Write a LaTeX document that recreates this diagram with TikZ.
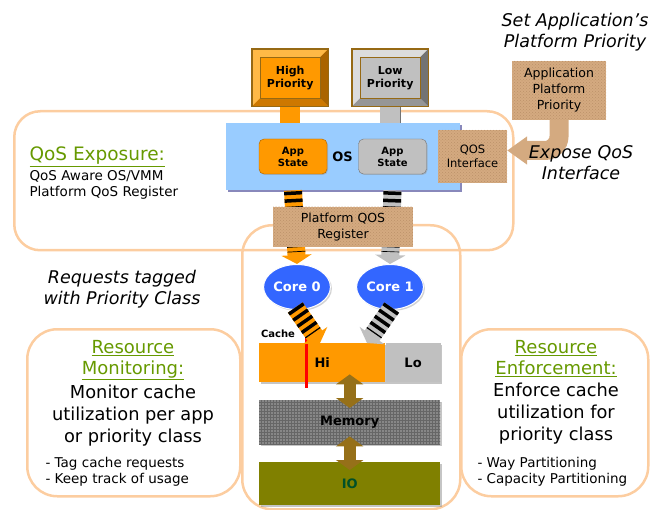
\documentclass[tikz,border=0pt]{standalone}
\usepackage{fontspec}
\setmainfont{DejaVu Sans}
\usetikzlibrary{arrows.meta,patterns,shapes.geometric,shadows,calc,positioning}
\definecolor{pumpkin}{RGB}{255,153,0}
\definecolor{pumpkinlt}{RGB}{255,185,70}
\definecolor{pumpkinbt}{RGB}{205,120,0}
\definecolor{pumpkindk}{RGB}{170,100,0}
\definecolor{silver}{RGB}{192,192,192}
\definecolor{silverlt}{RGB}{220,220,220}
\definecolor{silverbt}{RGB}{150,150,150}
\definecolor{silverdk}{RGB}{115,115,115}
\definecolor{signrim}{RGB}{150,105,20}
\definecolor{skyos}{RGB}{153,204,255}
\definecolor{peach}{RGB}{252,205,160}
\definecolor{leaf}{RGB}{102,153,0}
\definecolor{burlap}{RGB}{212,170,128}
\definecolor{burlapdot}{RGB}{188,145,105}
\definecolor{corebl}{RGB}{51,102,255}
\definecolor{memgray}{RGB}{135,135,135}
\definecolor{olivio}{RGB}{128,128,0}
\definecolor{iotext}{RGB}{0,80,40}
\definecolor{bronze}{RGB}{150,112,25}

\begin{document}
\begin{tikzpicture}[x=1pt,y=-1pt,
  region/.style={draw=peach,line width=2.5pt,rounded corners=26pt,anchor=north west},
  texture/.style={preaction={fill=burlap},pattern=crosshatch dots,pattern color=burlapdot,align=center},
  box/.style={anchor=north west,inner sep=0pt,drop shadow={shadow xshift=1.5pt,shadow yshift=-1.5pt,fill=black!45}},
  signtext/.style={font=\fontsize{11}{13}\selectfont\bfseries,align=center},
  stripes/.style={line width=18pt,-{Triangle[length=9pt,width=30pt]}},
  bars/.style={black,line width=18pt,dash pattern=on 3.5pt off 4pt,shorten >=12pt,shorten <=1pt},
  tagline/.style={font=\fontsize{17.5}{21}\selectfont\itshape,align=center},
  heading/.style={font=\fontsize{18}{21}\selectfont,text=leaf,align=center},
  bodytext/.style={font=\fontsize{17.8}{22}\selectfont,align=center},
  bullets/.style={font=\fontsize{13.5}{15.5}\selectfont,align=left,anchor=north west}]
\useasboundingbox (0,0) rectangle (650,510);

% the four regions
\node[region,minimum width=499pt,minimum height=139pt] (expo) at (13,110) {};
\node[region,minimum width=218pt,minimum height=284pt,rounded corners=30pt] (path) at (241,224) {};
\node[region,minimum width=213pt,minimum height=167pt,rounded corners=30pt] (monitor) at (26,328) {};
\node[region,minimum width=187pt,minimum height=167pt,rounded corners=30pt] (enforce) at (460,328) {};

% OS layer
\node[box,fill=skyos,minimum width=234pt,minimum height=67pt,drop shadow={shadow xshift=1.5pt,shadow yshift=-1.5pt,fill=blue!40!gray}] (os) at (226,123) {};
\node[fill=pumpkin,draw=pumpkindk,rounded corners=5pt,minimum width=68pt,minimum height=35pt,inner sep=0pt,
  font=\fontsize{10}{12}\selectfont\bfseries,align=center,drop shadow={shadow xshift=1pt,shadow yshift=-1pt,fill=black!40}] (hiapp) at (293,156.5) {App\\State};
\node[fill=silver,draw=silverdk,rounded corners=5pt,minimum width=68pt,minimum height=35pt,inner sep=0pt,
  font=\fontsize{10}{12}\selectfont\bfseries,align=center,drop shadow={shadow xshift=1pt,shadow yshift=-1pt,fill=black!40}] (loapp) at (392.5,156.5) {App\\State};
\node[font=\fontsize{13}{15}\selectfont\bfseries] (ostxt) at (342.5,157) {OS};
\node[texture,minimum width=69pt,minimum height=53pt,inner sep=0pt,font=\fontsize{11.5}{14}\selectfont] (qif) at (472.5,156.5) {QOS\\Interface};

% priority signs
\node[anchor=north west,minimum width=76pt,minimum height=57pt,fill=pumpkinlt] (hi) at (252,49) {};
\node[anchor=north west,minimum width=76pt,minimum height=57pt,fill=silverlt] (lo) at (352,49) {};
\fill[pumpkin] ($(hi.south)+(-10,0)$) rectangle ($(hi.south |- os.north)+(10,0)$);
\fill[silver] ($(lo.south)+(-10,0)$) rectangle ($(lo.south |- os.north)+(10,0)$);
\draw[silverdk,line width=.8pt] ($(lo.south)+(10,0)$) -- ($(lo.south |- os.north)+(10,0)$);
\fill[pumpkinbt] (hi.south east) -- (hi.south west) -- ($(hi.south west)+(8,-8)$) -- ($(hi.south east)+(-8,-8)$) -- cycle;
\fill[pumpkindk] (hi.north east) -- (hi.south east) -- ($(hi.south east)+(-8,-8)$) -- ($(hi.north east)+(-8,8)$) -- cycle;
\fill[silverbt] (lo.south east) -- (lo.south west) -- ($(lo.south west)+(8,-8)$) -- ($(lo.south east)+(-8,-8)$) -- cycle;
\fill[silverdk] (lo.north east) -- (lo.south east) -- ($(lo.south east)+(-8,-8)$) -- ($(lo.north east)+(-8,8)$) -- cycle;
\node[signtext,fill=pumpkin,draw=signrim,minimum width=60pt,minimum height=41pt,inner sep=0pt] (hiface) at (hi) {High\\Priority};
\node[signtext,fill=silver,draw=signrim,minimum width=60pt,minimum height=41pt,inner sep=0pt] (loface) at (lo) {Low\\Priority};
\draw[signrim,line width=1.2pt] (hi.north west) rectangle (hi.south east);
\draw[signrim,line width=1.2pt] (lo.north west) rectangle (lo.south east);

% application priority and its bent arrow
\node[texture,minimum width=94pt,minimum height=59pt,inner sep=0pt,font=\fontsize{12.5}{16}\selectfont] (apppri) at (559,90.5) {Application\\Platform\\Priority};
\draw[burlap,line width=19pt,rounded corners=14pt,-{Triangle[length=20pt,width=27pt]}] (apppri.south) |- ($(qif.east)+(0,-6)$);
\node[tagline] (settxt) at (575,32) {Set Application’s\\Platform Priority};
\node[tagline] (exptxt) at (581,163) {Expose QoS\\Interface};

% cores
\node[ellipse,fill=corebl,draw=white,line width=1pt,minimum width=62pt,minimum height=45pt,inner sep=0pt,text=white,
  font=\fontsize{13}{15}\selectfont\bfseries,drop shadow={shadow xshift=1.5pt,shadow yshift=-1.5pt,fill=black!35}] (core0) at (297,287) {Core 0};
\node[ellipse,fill=corebl,draw=white,line width=1pt,minimum width=62pt,minimum height=45pt,inner sep=0pt,text=white,
  font=\fontsize{13}{15}\selectfont\bfseries,drop shadow={shadow xshift=1.5pt,shadow yshift=-1.5pt,fill=black!35}] (core1) at (390,287) {Core 1};

% cache, memory, io
\node[box,fill=pumpkin,minimum width=126pt,minimum height=39pt,font=\fontsize{13}{15}\selectfont\bfseries] (cachehi) at (259,343) {Hi};
\node[box,fill=silver,minimum width=55pt,minimum height=39pt,font=\fontsize{13}{15}\selectfont\bfseries] (cachelo) at (cachehi.north east) {Lo};
\node[font=\fontsize{10}{12}\selectfont\bfseries,anchor=south] (cachetxt) at (278,341) {Cache};
\node[box,preaction={fill=memgray},pattern=grid,pattern color=black!60,minimum width=181pt,minimum height=44pt,
  font=\fontsize{13}{15}\selectfont\bfseries] (memory) at (259,400) {Memory};
\node[box,fill=olivio,minimum width=181pt,minimum height=43pt,text=iotext,font=\fontsize{13}{15}\selectfont\bfseries] (io) at (259,462) {IO};
\draw[red,line width=3pt] ($(cachehi.north west)+(47,-6)$) -- ($(cachehi.south west)+(47,6)$);

% striped request arrows
\draw[stripes,pumpkin] (hiapp |- os.south) -- (core0.north);
\draw[bars] (hiapp |- os.south) -- (core0.north);
\draw[stripes,silver] (loapp |- os.south) -- (core1.north);
\draw[bars] (loapp |- os.south) -- (core1.north);
\coordinate (hitip) at ($(cachehi.north west)+(61,0)$);
\coordinate (lotip) at ($(cachehi.north west)+(108,0)$);
\draw[stripes,pumpkin,shorten <=-3pt] (core0.south) -- (hitip);
\draw[bars,shorten <=-3pt] (core0.south) -- (hitip);
\draw[stripes,silver,shorten <=-3pt] (core1.south) -- (lotip);
\draw[bars,shorten <=-3pt] (core1.south) -- (lotip);
\node[texture,minimum width=140pt,minimum height=40pt,inner sep=0pt,font=\fontsize{12.5}{16}\selectfont] (register) at (343,227) {Platform QOS\\Register};

% bus arrows
\draw[bronze,line width=12pt,{Triangle[length=10pt,width=27pt]}-{Triangle[length=10pt,width=27pt]},shorten <=-8pt,shorten >=-8pt]
  (memory.north |- cachehi.south) -- (memory.north);
\draw[bronze,line width=12pt,{Triangle[length=10pt,width=27pt]}-{Triangle[length=10pt,width=27pt]},shorten <=-8pt,shorten >=-8pt]
  (memory.south) -- (io.north);

% texts
\node[font=\fontsize{18.5}{20}\selectfont,text=leaf,anchor=west] (expohead) at (26,157) {\underline{QoS Exposure:}};
\node[font=\fontsize{13.5}{16}\selectfont,align=left,anchor=north west] (expobody) at (26,167) {QoS Aware OS/VMM\\Platform QoS Register};
\node[tagline] (reqtxt) at (122,289) {Requests tagged\\with Priority Class};
\node[heading] (monhead) at (133,360) {\underline{Resource}\\\underline{Monitoring:}};
\node[bodytext] (monbody) at (133,416) {Monitor cache\\utilization per app\\or priority class};
\node[bullets] (monlist) at (42,454) {- Tag cache requests\\- Keep track of usage};
\node[heading] (enfhead) at (556,359) {\underline{Resource}\\\underline{Enforcement:}};
\node[bodytext] (enfbody) at (556,414) {Enforce cache\\utilization for\\priority class};
\node[bullets] (enflist) at (474,454) {- Way Partitioning\\- Capacity Partitioning};
\end{tikzpicture}
\end{document}
